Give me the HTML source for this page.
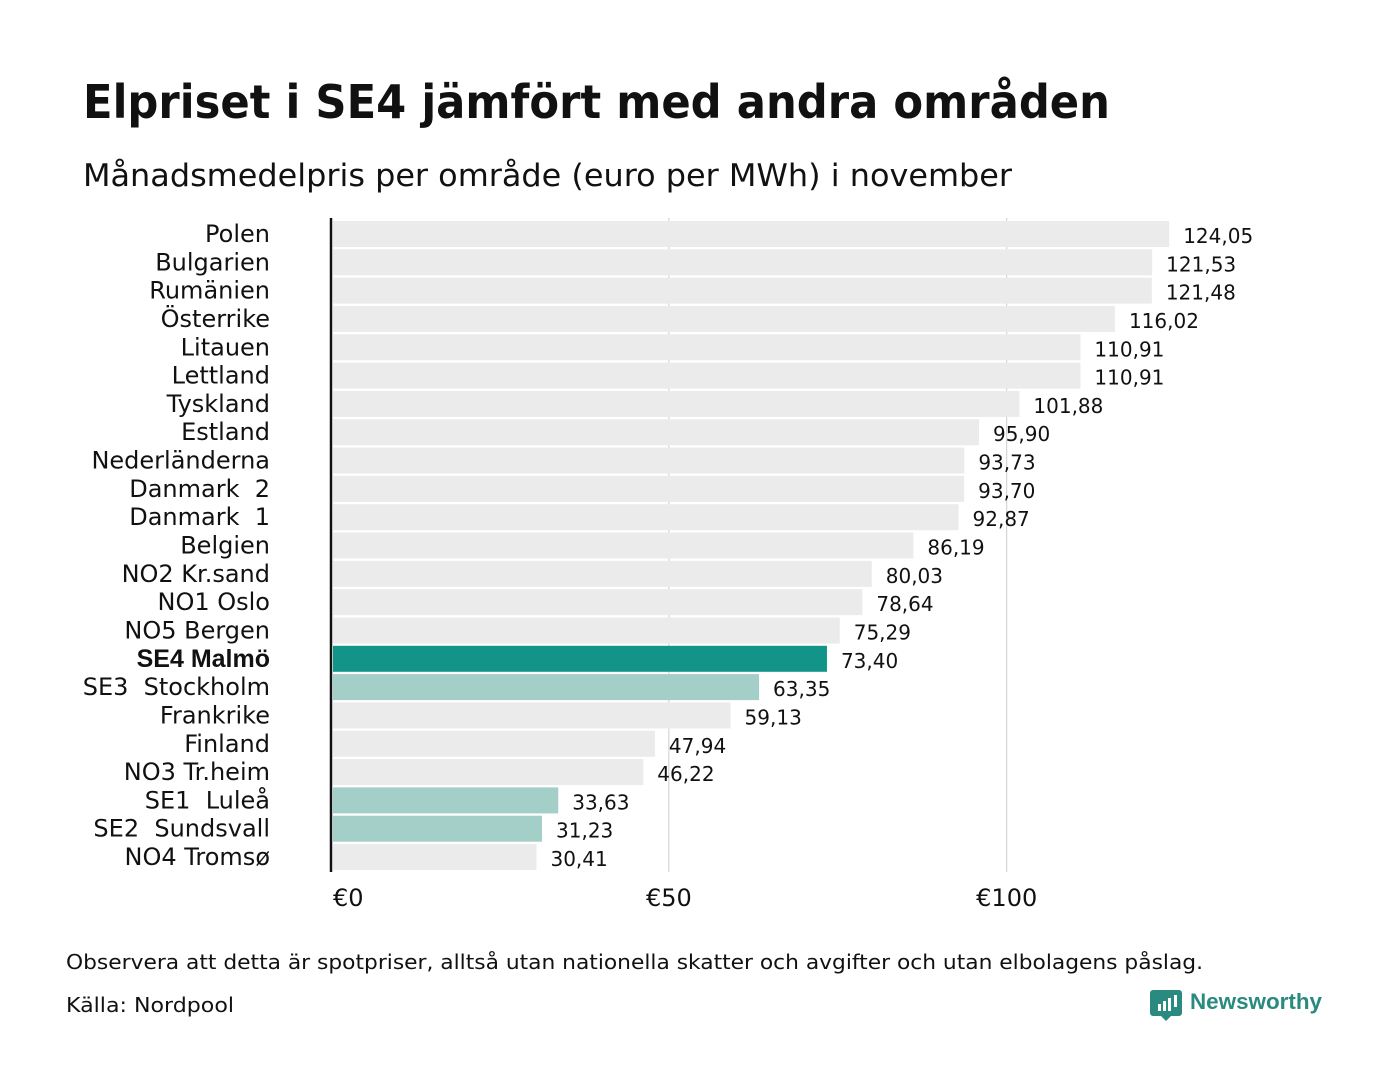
<!DOCTYPE html>
<html><head><meta charset="utf-8"><style>
body{margin:0;background:#fff;width:1400px;height:1080px;overflow:hidden;font-family:"DejaVu Sans","Liberation Sans",sans-serif;}
text{white-space:pre;}
</style></head><body>
<svg width="1400" height="1080" xmlns="http://www.w3.org/2000/svg" id="chart">
<text x="83" y="118" font-size="46" font-weight="bold" fill="#111" textLength="1027" lengthAdjust="spacingAndGlyphs">Elpriset i SE4 jämfört med andra områden</text>
<text x="83" y="186" font-size="31" fill="#111" textLength="929" lengthAdjust="spacingAndGlyphs">Månadsmedelpris per område (euro per MWh) i november</text>
<g id="grid"></g><g id="bars"></g><g id="labels"></g><g id="vals"></g><g id="ticks"></g>
<line x1="331" y1="218" x2="331" y2="872" stroke="#111" stroke-width="2.5"/>
<text x="66" y="969" font-size="20" fill="#111" textLength="1137" lengthAdjust="spacingAndGlyphs">Observera att detta är spotpriser, alltså utan nationella skatter och avgifter och utan elbolagens påslag.</text>
<text x="66" y="1012" font-size="20" fill="#111" textLength="168" lengthAdjust="spacingAndGlyphs">Källa: Nordpool</text>
<g>
<path d="M1153 990 h26 a3 3 0 0 1 3 3 v20 a3 3 0 0 1 -3 3 h-8 l-5 5 l-5 -5 h-8 a3 3 0 0 1 -3 -3 v-20 a3 3 0 0 1 3 -3z" fill="#2a8a7f"/>
<rect x="1158" y="1004" width="3" height="7" fill="#fff"/><rect x="1163" y="1001" width="3" height="10" fill="#fff"/><rect x="1168" y="998" width="3" height="13" fill="#fff"/><rect x="1174" y="995" width="3" height="12" fill="#fff"/>
<text x="1190" y="1009" font-size="22" font-weight="bold" fill="#2a8a7f" textLength="132" lengthAdjust="spacingAndGlyphs" font-family="Liberation Sans, sans-serif">Newsworthy</text>
</g>
</svg>
<script>
const categories=["Polen","Bulgarien","Rumänien","Österrike","Litauen","Lettland","Tyskland","Estland","Nederländerna","Danmark  2","Danmark  1","Belgien","NO2 Kr.sand","NO1 Oslo","NO5 Bergen","SE4 Malmö","SE3  Stockholm","Frankrike","Finland","NO3 Tr.heim","SE1  Luleå","SE2  Sundsvall","NO4 Tromsø"];
const values=[124.05,121.53,121.48,116.02,110.91,110.91,101.88,95.90,93.73,93.70,92.87,86.19,80.03,78.64,75.29,73.40,63.35,59.13,47.94,46.22,33.63,31.23,30.41];
const tickValues=[0,50,100];
const tickLabels=["€0","€50","€100"];
const highlight="SE4 Malmö";
const swedish=["SE3  Stockholm","SE1  Luleå","SE2  Sundsvall"];
const NS="http://www.w3.org/2000/svg";
const x=v=>331+v*6.757;
const y=i=>221+i*28.32;
function mk(tag,attrs,parent){const e=document.createElementNS(NS,tag);for(const k in attrs)e.setAttribute(k,attrs[k]);document.getElementById(parent).appendChild(e);return e;}
tickValues.forEach((t,i)=>{
 if(t>0){const g=mk('line',{x1:x(t),x2:x(t),y1:218,y2:872,stroke:'#ccc','stroke-width':1},'grid');
 
 }
 const tx=mk('text',{x:x(t)+(t===0?2:0),y:906,'font-size':24,fill:'#111','text-anchor':t===0?'start':'middle'},'ticks');
 tx.textContent=tickLabels[i];
 
 
});
categories.forEach((c,i)=>{
 const col=c===highlight?'#139488':(swedish.includes(c)?'#a4cfc8':'#ebebeb');
 const r=mk('rect',{x:333,y:y(i),width:x(values[i])-333,height:26,fill:col},'bars');
 
 
 const hl=c===highlight;
 const l=mk('text',{x:270,y:y(i)+21,'font-size':hl?25:24,fill:'#111','text-anchor':'end','font-weight':hl?'bold':'normal','font-family':hl?'Liberation Sans, sans-serif':'DejaVu Sans, sans-serif'},'labels');
 l.textContent=c;
 
 
 const v=mk('text',{x:x(values[i])+14,y:y(i)+22,'font-size':20,fill:'#111'},'vals');
 v.textContent=values[i].toFixed(2).replace('.',',');
 
 
});
</script>
</body></html>
